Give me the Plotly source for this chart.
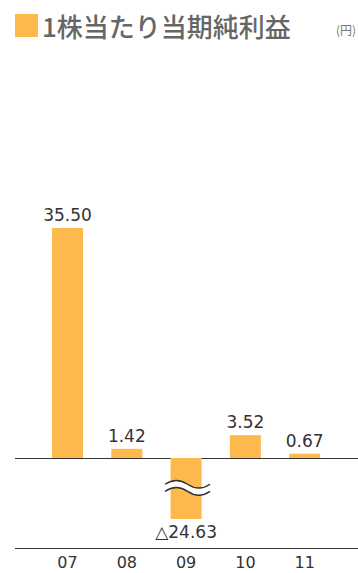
import plotly.graph_objects as go

categories = ["07", "08", "09", "10", "11"]
values = [35.50, 1.42, -24.63, 3.52, 0.67]
break_floor = -9.4  # axis break: bars below this are drawn truncated
title_text = "1株当たり当期純利益"
unit_text = "(円)"

bar_color = "#FDB94C"
line_color = "#333333"
text_color = "#333333"
num_font = "DejaVu Sans, sans-serif"

x_pos = list(range(len(categories)))
shown = [max(v, break_floor) for v in values]
labels = [f"{v:.2f}" if v >= 0 else f"△{abs(v):.2f}" for v in values]

fig = go.Figure()
fig.add_trace(go.Bar(
    x=x_pos, y=shown, width=0.523,
    marker=dict(color=bar_color, line=dict(width=0)),
    text=labels, textposition="outside", cliponaxis=False, constraintext="none",
    textfont=dict(family=num_font, size=17, color=text_color),
))

# wave break mark on the truncated bar
for i, v in enumerate(values):
    if v < break_floor:
        xc = i
        x0, x1 = xc - 0.355, xc + 0.405
        yc = -4.6
        a = 0.5
        g = 0.55
        w = x1 - x0

        def wave(off):
            ya = yc + off
            return (f"M {x0},{ya} "
                    f"C {x0 + w*0.17},{ya + a*1.6} {x0 + w*0.33},{ya + a*1.6} {x0 + w*0.5},{ya} "
                    f"C {x0 + w*0.67},{ya - a*1.6} {x0 + w*0.83},{ya - a*1.6} {x1},{ya}")

        def wave_rev(off):
            ya = yc + off
            return (f"L {x1},{ya} "
                    f"C {x0 + w*0.83},{ya - a*1.6} {x0 + w*0.67},{ya - a*1.6} {x0 + w*0.5},{ya} "
                    f"C {x0 + w*0.33},{ya + a*1.6} {x0 + w*0.17},{ya + a*1.6} {x0},{ya} Z")

        fig.add_shape(type="path", xref="x", yref="y",
                      path=wave(g) + " " + wave_rev(-g),
                      fillcolor="white", line=dict(width=0))
        fig.add_shape(type="path", xref="x", yref="y", path=wave(g),
                      line=dict(color=line_color, width=1.4))
        fig.add_shape(type="path", xref="x", yref="y", path=wave(-g),
                      line=dict(color=line_color, width=1.4))

# title square + title + unit
fig.add_shape(type="rect", xref="paper", yref="paper",
              x0=0.0, x1=0.067, y0=1.0471, y1=1.0943,
              fillcolor=bar_color, line=dict(width=0))
fig.add_annotation(text=title_text, xref="paper", yref="paper",
                   x=0.0729, y=1.0697, xanchor="left", yanchor="middle",
                   showarrow=False,
                   font=dict(family="Noto Sans CJK JP, sans-serif", size=26, color="#666666", weight=500))
fig.add_annotation(text=unit_text, xref="paper", yref="paper",
                   x=1.0, y=1.0615, xanchor="right", yanchor="middle",
                   showarrow=False,
                   font=dict(family="Noto Sans CJK JP, sans-serif", size=12, color="#777777"))

fig.update_layout(
    width=358, height=573,
    margin=dict(l=15, r=0, t=60, b=25),
    paper_bgcolor="white", plot_bgcolor="white",
    showlegend=False,
    xaxis=dict(range=[-0.886, 4.90], tickmode="array", tickvals=x_pos, ticktext=categories,
               showgrid=False, zeroline=False, showline=True, linecolor=line_color, linewidth=1.2,
               ticks="", automargin=False,
               tickfont=dict(family=num_font, size=16, color=text_color)),
    yaxis=dict(range=[-13.89, 61.43], showgrid=False, showticklabels=False, ticks="",
               zeroline=True, zerolinecolor=line_color, zerolinewidth=1.2, showline=False),
)

fig.write_html("out.html")
